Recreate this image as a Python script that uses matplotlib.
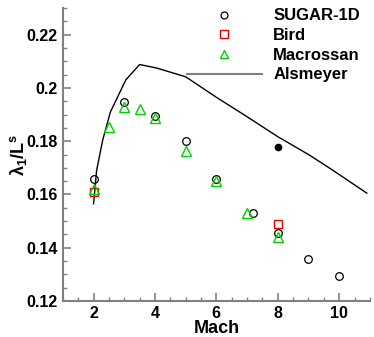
import matplotlib
matplotlib.use("Agg")
import matplotlib.pyplot as plt
from matplotlib.lines import Line2D
from matplotlib.ticker import MultipleLocator

plt.rcParams['font.family'] = ['Liberation Sans', 'DejaVu Sans']
plt.rcParams['font.weight'] = 'bold'
plt.rcParams['mathtext.fontset'] = 'custom'
plt.rcParams['mathtext.rm'] = 'Liberation Sans'
plt.rcParams['mathtext.it'] = 'Liberation Sans'
plt.rcParams['mathtext.bf'] = 'Liberation Sans:bold'

# data
sugar_mach = [2, 3, 4, 5, 6, 7.2, 8, 9, 10]
sugar_val = [0.1658, 0.1946, 0.1895, 0.180, 0.1658, 0.153, 0.1454, 0.1358, 0.1294]
sugar_dot_mach = [8]
sugar_dot_val = [0.1777]
bird_mach = [2, 8]
bird_val = [0.161, 0.1489]
macro_mach = [2, 2.5, 3, 3.5, 4, 5, 6, 7, 8]
macro_val = [0.162, 0.1854, 0.1927, 0.192, 0.1888, 0.1764, 0.165, 0.1531, 0.1441]
als_mach = [2.0, 2.1, 2.3, 2.55, 3.05, 3.5, 4.05, 5.0, 6.0, 7.0, 8.0, 9.0, 9.7, 10.9]
als_val = [0.1565, 0.169, 0.1805, 0.191, 0.203, 0.2088, 0.2075, 0.2042, 0.1965, 0.1892, 0.1817, 0.175, 0.1698, 0.1605]

grey = '#808080'
green = '#00d000'
red = '#e00000'

fig = plt.figure(figsize=(3.74, 3.37), dpi=100)
ax = fig.add_axes([0.168, 0.107, 0.821, 0.869])

ax.plot(als_mach, als_val, color='black', lw=1.0)
ax.plot(sugar_mach, sugar_val, 'o', ms=5.5, mfc='none', mec='black', mew=0.9)
ax.plot(sugar_dot_mach, sugar_dot_val, 'o', ms=4.5, color='black')
ax.plot(bird_mach, bird_val, 's', ms=5.5, mfc='none', mec=red, mew=1.0)
ax.plot(macro_mach, macro_val, '^', ms=6.5, mfc='none', mec=green, mew=1.0)

ax.set_xlim(1, 11)
ax.set_ylim(0.12, 0.23)
ax.xaxis.set_major_locator(MultipleLocator(2))
ax.xaxis.set_minor_locator(MultipleLocator(0.5))
ax.yaxis.set_minor_locator(MultipleLocator(0.005))
ax.set_yticks([0.12, 0.14, 0.16, 0.18, 0.2, 0.22])
ax.set_yticklabels(['0.12', '0.14', '0.16', '0.18', '0.2', '0.22'])

for s in ['top', 'right']:
    ax.spines[s].set_visible(False)
for s in ['left', 'bottom']:
    ax.spines[s].set_color(grey)
    ax.spines[s].set_linewidth(1.5)
ax.tick_params(which='major', direction='in', length=6, width=1.2, color=grey,
               labelsize=11.5, pad=4)
ax.tick_params(which='minor', direction='in', length=3, width=1.0, color=grey)
for lab in ax.get_xticklabels() + ax.get_yticklabels():
    lab.set_fontweight('bold')

ax.set_xlabel('Mach', fontsize=13, fontweight='bold', labelpad=-1)
ax.set_ylabel(r'$\lambda_1/\mathbf{L}^s$', fontsize=13, labelpad=-2)

handles = [
    Line2D([], [], ls='none', marker='o', ms=5, mfc='none', mec='black', mew=0.9),
    Line2D([], [], ls='none', marker='s', ms=6, mfc='none', mec=red, mew=1.0),
    Line2D([], [], ls='none', marker='^', ms=6, mfc='none', mec=green, mew=1.0),
    Line2D([], [], color=grey, lw=1.5),
]
labels = ['SUGAR-1D', 'Bird', 'Macrossan', 'Alsmeyer']
fig.legend(handles, labels, loc='upper left', bbox_to_anchor=(0.49, 0.985),
           frameon=False, prop={'weight': 'bold', 'size': 12},
           handlelength=4.5, handletextpad=0.7, labelspacing=0.28,
           borderaxespad=0, borderpad=0.2)

fig.savefig('out.png', dpi=100)
